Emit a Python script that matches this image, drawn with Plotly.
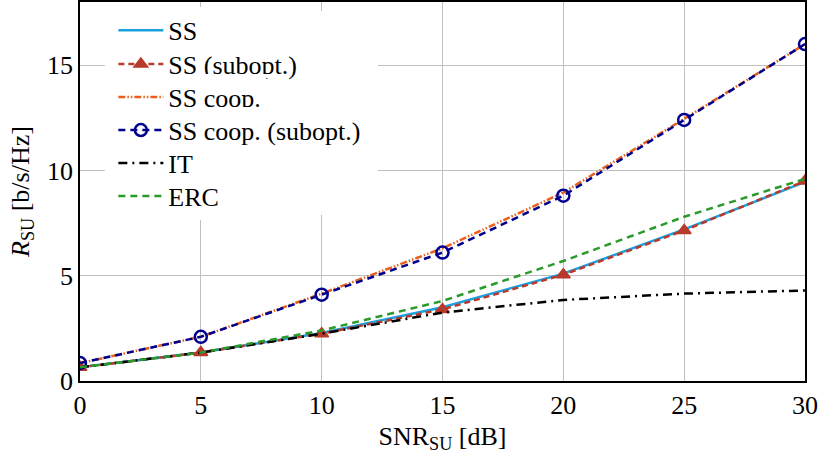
import plotly.graph_objects as go

snr = [0, 5, 10, 15, 20, 25, 30]
ss = [0.65, 1.35, 2.28, 3.5, 5.1, 7.2, 9.45]
ss_subopt = [0.65, 1.35, 2.25, 3.4, 5.05, 7.15, 9.5]
ss_coop = [0.85, 2.1, 4.15, 6.3, 8.95, 12.45, 16.0]
ss_coop_subopt = [0.85, 2.1, 4.1, 6.1, 8.8, 12.4, 16.0]
it = [0.65, 1.35, 2.25, 3.25, 3.85, 4.15, 4.3]
erc = [0.65, 1.35, 2.4, 3.8, 5.7, 7.8, 9.6]

FONT = "Liberation Serif, Times New Roman, serif"
F = dict(family=FONT, size=26, color="black")
fig = go.Figure()
fig.add_trace(go.Scatter(x=snr, y=ss, name="SS", mode="lines", legend="legend", showlegend=True,
                         line=dict(color="#1BA1E2", width=2.5)))
fig.add_trace(go.Scatter(x=snr, y=ss_subopt, name="SS (subopt.)", mode="lines+markers", legend="legend2",
                         line=dict(color="#B83A2A", width=2.5, dash="6px,4px"),
                         marker=dict(symbol="triangle-up", size=12, color="#B83A2A",
                                     line=dict(color="#B83A2A", width=1.5))))
fig.add_trace(go.Scatter(x=snr, y=ss_coop, name="SS coop.", mode="lines", legend="legend3",
                         line=dict(color="#E8601C", width=2.5, dash="7px,2px,1.5px,2px,1.5px,2px")))
fig.add_trace(go.Scatter(x=snr, y=ss_coop_subopt, name="SS coop. (subopt.)", mode="lines+markers", legend="legend4",
                         line=dict(color="#00008F", width=2.5, dash="7px,5px"),
                         marker=dict(symbol="circle-open", size=12, color="#00008F",
                                     line=dict(color="#00008F", width=2.5))))
fig.add_trace(go.Scatter(x=snr, y=it, name="IT", mode="lines", legend="legend5",
                         line=dict(color="black", width=2.5, dash="9px,5px,2px,5px")))
fig.add_trace(go.Scatter(x=snr, y=erc, name="ERC", mode="lines", legend="legend6",
                         line=dict(color="#2A9A2A", width=2.5, dash="7px,5px")))

# legend row centres (paper fraction of plot height)
row_y = [0.925, 0.836, 0.749, 0.662, 0.575, 0.488]
leg = {}
for i, yv in enumerate(row_y):
    key = "legend" if i == 0 else f"legend{i+1}"
    leg[key] = dict(x=0.046, y=yv, xanchor="left", yanchor="middle",
                    bgcolor="white", borderwidth=0, font=F,
                    itemwidth=45, visible=True)

fig.update_layout(
    width=818, height=454,
    showlegend=True,
    margin=dict(l=80, r=13, t=2, b=73, autoexpand=False),
    paper_bgcolor="white", plot_bgcolor="white",
    font=F,
    xaxis=dict(range=[0, 30], tickvals=[0, 5, 10, 15, 20, 25, 30],
               showgrid=True, gridcolor="#C0C0C0", gridwidth=1,
               showline=True, linecolor="black", linewidth=1.5, mirror=True,
               ticks="", zeroline=False, automargin=False, tickfont=F,
               title=dict(text="SNR<sub>SU</sub> [dB]", standoff=8, font=F)),
    yaxis=dict(range=[0, 18], tickvals=[0, 5, 10, 15],
               showgrid=True, gridcolor="#C0C0C0", gridwidth=1,
               showline=True, linecolor="black", linewidth=1.5, mirror=True,
               ticks="", zeroline=False, automargin=False, tickfont=F,
               title=dict(text="<i>R</i><sub>SU</sub> [b/s/Hz]", standoff=10, font=F)),
    shapes=[dict(type="rect", xref="paper", yref="paper", x0=0.035, x1=0.41, y0=0.44, y1=0.975,
                 fillcolor="white", line=dict(color="white", width=1), layer="above")],
    **leg,
)
fig.write_html("out.html", config={"displayModeBar": False},
               post_script="document.body.style.margin='0';document.body.style.padding='0';")
